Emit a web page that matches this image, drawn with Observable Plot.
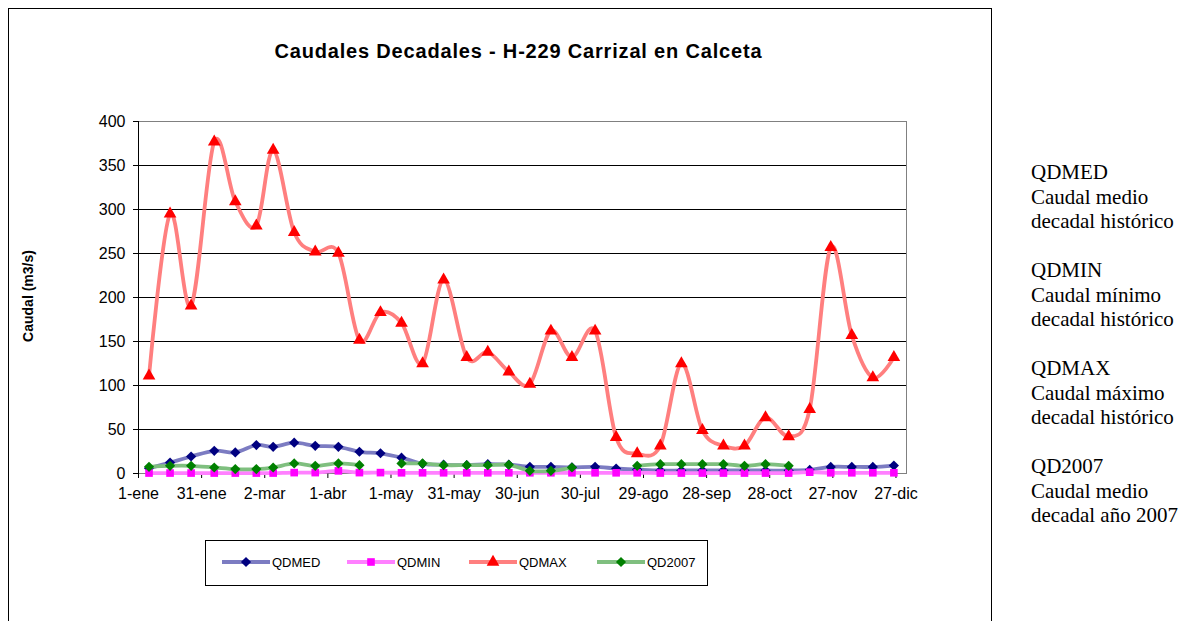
<!DOCTYPE html>
<html>
<head>
<meta charset="utf-8">
<script src="https://cdn.jsdelivr.net/npm/d3@7"></script>
<script src="https://cdn.jsdelivr.net/npm/@observablehq/plot@0.6"></script>
<style>
  html, body { margin: 0; padding: 0; background: #fff; }
  #wrap { position: relative; width: 1195px; height: 621px; overflow: hidden; background: #fff;
          font-family: "Liberation Sans", Arial, sans-serif; }
  #frame { position: absolute; left: 8px; top: 8px; width: 984px; height: 700px; border: 1px solid #000; box-sizing: border-box; }
  #chart { position: absolute; left: 0; top: 0; }
  #overlay { position: absolute; left: 0; top: 0; pointer-events: none; }
  #notes { position: absolute; left: 1031px; top: 160px; font-family: "Liberation Serif", "Times New Roman", serif;
           font-size: 21px; line-height: 24.5px; color: #000; white-space: pre; }
</style>
</head>
<body>
<div id="wrap">
  <div id="frame"></div>
  <div id="chart"></div>
  <svg id="overlay" width="1195" height="621"></svg>
  <div id="notes"></div>
</div>
<script>
// ---- data ----
const titleText = "Caudales Decadales - H-229 Carrizal en Calceta";
const yLabel = "Caudal (m3/s)";
const months = ["01","02","03","04","05","06","07","08","09","10","11","12"];
const decadeDays = ["06","16","26"];
const seriesNames = ["QDMED", "QDMIN", "QDMAX", "QD2007"];
const qdmed = [6, 12.5, 19.3, 25.8, 24, 32.3, 30.3, 35, 31.5, 30.3, 24.7, 23,
               18, 11, 10, 9.5, 10.6, 10, 7.6, 7.6, 7, 7.6, 5.7, 4.5,
               3.4, 3.4, 3.4, 3.4, 3.4, 3.4, 3.4, 4, 7.5, 7.5, 7.5, 9];
const qdmin = [0.5, 0.5, 0.5, 0.5, 0.5, 0.5, 0.5, 1, 1, 3, 1, 1,
               0.8, 0.8, 0.8, 0.8, 0.8, 0.8, 0.8, 0.8, 0.8, 0.8, 0.8, 0.8,
               0.5, 0.5, 0.5, 0.5, 0.5, 0.5, 0.5, 1.5, 0.8, 0.8, 0.8, 0.8];
const qdmax = [111, 295, 190.5, 377, 309, 281.5, 367.5, 274, 252, 250.5, 151.6, 183,
               171, 125, 220, 132, 138, 115.6, 101.6, 162, 132, 162, 41, 22.7,
               31.5, 125, 49, 31.5, 31.5, 63.6, 42, 73, 257, 157, 109, 132];
const qd2007 = [7.6, 8.7, 8.7, 6.8, 5, 5, 6.8, 11.4, 8.7, 11.4, 9.5, null,
                11.4, 11.4, 9.5, 9.5, 9.5, 9.9, 3, 3, 6.8, null, null, 8.7,
                10.6, 10.6, 10.6, 10.6, 8.7, 10.6, 8.7, null, null, null, null, null];
const xTickDates = ["2007-01-01","2007-01-31","2007-03-02","2007-04-01","2007-05-01","2007-05-31",
                    "2007-06-30","2007-07-30","2007-08-29","2007-09-28","2007-10-28","2007-11-27","2007-12-27"];
const xTickLabels = ["1-ene","31-ene","2-mar","1-abr","1-may","31-may","30-jun","30-jul","29-ago","28-sep","28-oct","27-nov","27-dic"];
const yTicks = [0, 50, 100, 150, 200, 250, 300, 350, 400];
const xDomain = ["2007-01-01", "2008-01-01"];
const notes = [
  ["QDMED", "Caudal medio", "decadal histórico"],
  ["QDMIN", "Caudal mínimo", "decadal histórico"],
  ["QDMAX", "Caudal máximo", "decadal histórico"],
  ["QD2007", "Caudal medio", "decadal año 2007"]
];

// ---- build ----
const utc = s => new Date(s + "T00:00:00Z");
const dates = months.flatMap(m => decadeDays.map(d => utc(`2007-${m}-${d}`)));
const table = dates.map((date, i) => ({date, QDMED: qdmed[i], QDMIN: qdmin[i], QDMAX: qdmax[i], QD2007: qd2007[i]}));
const styles = {
  QDMED:  {line: "#7c7cc2", marker: "#000080", symbol: "diamond2", r: 4.6},
  QDMIN:  {line: "#ff80ff", marker: "#ff00ff", symbol: "square",   r: 4.3},
  QDMAX:  {line: "#ff7f7f", marker: "#ff0000", symbol: "triangle", r: 4.7},
  QD2007: {line: "#7fbf7f", marker: "#008000", symbol: "diamond2", r: 4.6}
};
const tickDates = xTickDates.map(utc);
const labelByTime = new Map(tickDates.map((d, i) => [+d, xTickLabels[i]]));

const W = 1195, H = 621;
const chart = Plot.plot({
  width: W, height: H,
  marginLeft: 138, marginRight: 289, marginTop: 121, marginBottom: 148,
  style: {fontFamily: "'Liberation Sans', Arial, sans-serif", fontSize: "16px", color: "#000", background: "transparent"},
  x: {type: "utc", domain: xDomain.map(utc)},
  y: {domain: [0, 400]},
  marks: [
    Plot.ruleY(yTicks.filter(v => v > 0 && v < 400), {stroke: "#000", strokeWidth: 1}),
    Plot.frame({stroke: "#808080"}),
    Plot.ruleX([utc(xDomain[0])], {stroke: "#000"}),
    Plot.axisX({ticks: tickDates, tickFormat: d => labelByTime.get(+d), tickSize: 5, tickPadding: 9, label: null, fontSize: 16}),
    Plot.axisY({ticks: yTicks, tickSize: 5, tickPadding: 8, label: null, fontSize: 16}),
    ...seriesNames.flatMap(name => [
      Plot.line(table, {x: "date", y: name, stroke: styles[name].line, strokeWidth: 3.8, curve: "cardinal"}),
      Plot.dot(table, {x: "date", y: name, symbol: styles[name].symbol, fill: styles[name].marker, stroke: "none", r: styles[name].r})
    ])
  ]
});
document.getElementById("chart").appendChild(chart);

// ---- overlay: title, y label, legend ----
const svg = d3.select("#overlay");
svg.append("text").attr("x", 518).attr("y", 58).attr("text-anchor", "middle")
  .attr("font-family", "'Liberation Sans', Arial, sans-serif").attr("font-weight", "bold").attr("font-size", 20)
  .attr("textLength", 487).attr("lengthAdjust", "spacing").text(titleText);
svg.append("text").attr("transform", "translate(33,296) rotate(-90)").attr("text-anchor", "middle")
  .attr("font-family", "'Liberation Sans', Arial, sans-serif").attr("font-weight", "bold").attr("font-size", 14)
  .text(yLabel);

// legend
svg.append("rect").attr("x", 205.5).attr("y", 540.5).attr("width", 502).attr("height", 45)
  .attr("fill", "#fff").attr("stroke", "#000");
const legendX = [222, 347, 469, 597];
const symbolTypes = {diamond2: d3.symbolDiamond2, square: d3.symbolSquare, triangle: d3.symbolTriangle};
seriesNames.forEach((name, i) => {
  const s = styles[name], x0 = legendX[i], cy = 562;
  svg.append("line").attr("x1", x0).attr("x2", x0 + 48).attr("y1", cy).attr("y2", cy)
    .attr("stroke", s.line).attr("stroke-width", 3.8);
  svg.append("path").attr("transform", `translate(${x0 + 24},${cy})`)
    .attr("d", d3.symbol(symbolTypes[s.symbol], Math.PI * s.r * s.r)()).attr("fill", s.marker);
  svg.append("text").attr("x", x0 + 50).attr("y", cy).attr("dy", "0.35em")
    .attr("font-family", "'Liberation Sans', Arial, sans-serif").attr("font-size", 13).text(name);
});

// notes on the right
document.getElementById("notes").textContent = notes.map(g => g.join("\n")).join("\n\n");
</script>
</body>
</html>
